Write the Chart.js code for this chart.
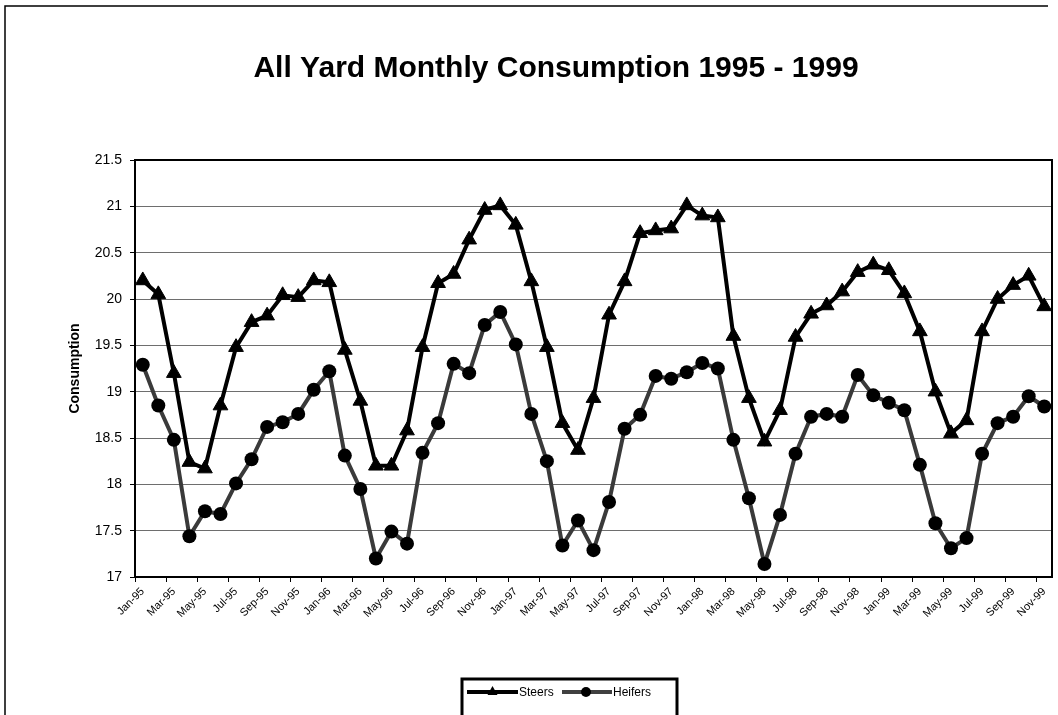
<!DOCTYPE html>
<html>
<head>
<meta charset="utf-8">
<script src="https://cdn.jsdelivr.net/npm/chart.js@4.4.1/dist/chart.umd.min.js"></script>
<style>
  body { margin: 0; background: #fff; }
  canvas { display: block; }
</style>
</head>
<body>
<canvas id="chart" width="1058" height="715"></canvas>
<script>
// months Jan-95 .. Nov-99
const months = [
  'Jan-95','Feb-95','Mar-95','Apr-95','May-95','Jun-95','Jul-95','Aug-95','Sep-95','Oct-95','Nov-95','Dec-95',
  'Jan-96','Feb-96','Mar-96','Apr-96','May-96','Jun-96','Jul-96','Aug-96','Sep-96','Oct-96','Nov-96','Dec-96',
  'Jan-97','Feb-97','Mar-97','Apr-97','May-97','Jun-97','Jul-97','Aug-97','Sep-97','Oct-97','Nov-97','Dec-97',
  'Jan-98','Feb-98','Mar-98','Apr-98','May-98','Jun-98','Jul-98','Aug-98','Sep-98','Oct-98','Nov-98','Dec-98',
  'Jan-99','Feb-99','Mar-99','Apr-99','May-99','Jun-99','Jul-99','Aug-99','Sep-99','Oct-99','Nov-99'
];

const steers = [
  20.2, 20.05, 19.2, 18.24, 18.17, 18.85, 19.48, 19.75, 19.82, 20.04, 20.02, 20.2,
  20.18, 19.45, 18.9, 18.2, 18.2, 18.58, 19.48, 20.17, 20.27, 20.64, 20.96, 21.01,
  20.8, 20.19, 19.48, 18.66, 18.37, 18.93, 19.83, 20.19, 20.71, 20.74, 20.76, 21.01,
  20.9, 20.88, 19.6, 18.93, 18.46, 18.8, 19.59, 19.84, 19.93, 20.08, 20.29, 20.37,
  20.31, 20.06, 19.65, 19.0, 18.55, 18.69, 19.65, 20.0, 20.15, 20.25, 19.92
];

const heifers = [
  19.29, 18.85, 18.48, 17.44, 17.71, 17.68, 18.01, 18.27, 18.62, 18.67, 18.76, 19.02,
  19.22, 18.31, 17.95, 17.2, 17.49, 17.36, 18.34, 18.66, 19.3, 19.2, 19.72, 19.86,
  19.51, 18.76, 18.25, 17.34, 17.61, 17.29, 17.81, 18.6, 18.75, 19.17, 19.14, 19.21,
  19.31, 19.25, 18.48, 17.85, 17.14, 17.67, 18.33, 18.73, 18.76, 18.73, 19.18, 18.96,
  18.88, 18.8, 18.21, 17.58, 17.31, 17.42, 18.33, 18.66, 18.73, 18.95, 18.84
];

const FONT = '"Liberation Sans", Arial, sans-serif';

// outer frame, plot box and the boxed legend
const framePlugin = {
  id: 'frame',
  beforeDatasetsDraw(chart) {
    const ctx = chart.ctx, a = chart.chartArea;
    ctx.save();
    ctx.strokeStyle = '#000';
    ctx.lineWidth = 2;
    ctx.strokeRect(a.left, a.top, a.right - a.left, a.bottom - a.top);
    ctx.restore();
  },
  afterDraw(chart) {
    const ctx = chart.ctx;
    ctx.save();
    ctx.strokeStyle = '#000';
    ctx.lineWidth = 1.5;
    ctx.beginPath();
    ctx.moveTo(5, 715);
    ctx.lineTo(5, 6);
    ctx.lineTo(1048, 6);
    ctx.stroke();

    // legend box
    ctx.lineWidth = 3;
    ctx.strokeRect(462, 679, 215, 60);

    const y = 692;
    ctx.lineWidth = 4;
    ctx.strokeStyle = '#000';
    ctx.beginPath(); ctx.moveTo(467, y); ctx.lineTo(518, y); ctx.stroke();
    ctx.fillStyle = '#000';
    ctx.beginPath();
    ctx.moveTo(492.5, y - 6); ctx.lineTo(497.5, y + 3); ctx.lineTo(487.5, y + 3);
    ctx.closePath(); ctx.fill();

    ctx.strokeStyle = '#404040';
    ctx.beginPath(); ctx.moveTo(562, y); ctx.lineTo(612, y); ctx.stroke();
    ctx.beginPath(); ctx.arc(586, y, 5, 0, Math.PI * 2); ctx.fill();

    ctx.font = '12px ' + FONT;
    ctx.textBaseline = 'middle';
    ctx.fillText('Steers', 519, y + 1);
    ctx.fillText('Heifers', 613, y + 1);
    ctx.restore();
  }
};

new Chart(document.getElementById('chart'), {
  type: 'line',
  data: {
    labels: months,
    datasets: [
      {
        label: 'Steers',
        data: steers,
        borderColor: '#000',
        borderWidth: 4,
        pointStyle: 'triangle',
        pointRadius: 8.5,
        pointBackgroundColor: '#000',
        pointBorderColor: '#000',
        pointBorderWidth: 1,
        tension: 0,
        clip: false
      },
      {
        label: 'Heifers',
        data: heifers,
        borderColor: '#3a3a3a',
        borderWidth: 4,
        pointStyle: 'circle',
        pointRadius: 7,
        pointBackgroundColor: '#000',
        pointBorderColor: '#000',
        pointBorderWidth: 0,
        tension: 0,
        clip: false
      }
    ]
  },
  options: {
    responsive: false,
    animation: false,
    layout: { autoPadding: false, padding: { left: 60, right: 6, top: 0, bottom: 0 } },
    plugins: {
      legend: { display: false },
      tooltip: { enabled: false },
      title: {
        display: true,
        text: 'All Yard Monthly Consumption 1995 - 1999',
        color: '#000',
        font: { family: FONT, size: 30, weight: 'bold' },
        padding: { top: 51, bottom: 73 }
      }
    },
    scales: {
      x: {
        offset: true,
        grid: {
          offset: true,
          drawOnChartArea: false,
          tickLength: 5,
          tickColor: c => (c.index % 2 === 0 ? '#000' : 'rgba(0,0,0,0)')
        },
        border: { color: '#000', width: 2 },
        ticks: {
          autoSkip: false,
          maxRotation: 45,
          minRotation: 45,
          color: '#000',
          font: { family: FONT, size: 11 },
          callback: function(v, i) { return i % 2 === 0 ? this.getLabelForValue(v) : ''; }
        },
        afterFit: s => { s.height = 138; s.paddingLeft = 0; s.paddingRight = 0; }
      },
      y: {
        min: 17,
        max: 21.5,
        grid: { color: '#6e6e6e', lineWidth: 1, tickLength: 5, tickColor: '#000' },
        border: { color: '#000', width: 2 },
        ticks: {
          stepSize: 0.5,
          padding: 8,
          color: '#000',
          font: { family: FONT, size: 14 },
          callback: v => String(v)
        },
        title: {
          display: true,
          text: 'Consumption',
          color: '#000',
          font: { family: FONT, size: 14, weight: 'bold' },
          padding: { top: 7, bottom: 0 }
        },
        afterFit: s => { s.width = 75; }
      }
    }
  },
  plugins: [framePlugin]
});
</script>
</body>
</html>
